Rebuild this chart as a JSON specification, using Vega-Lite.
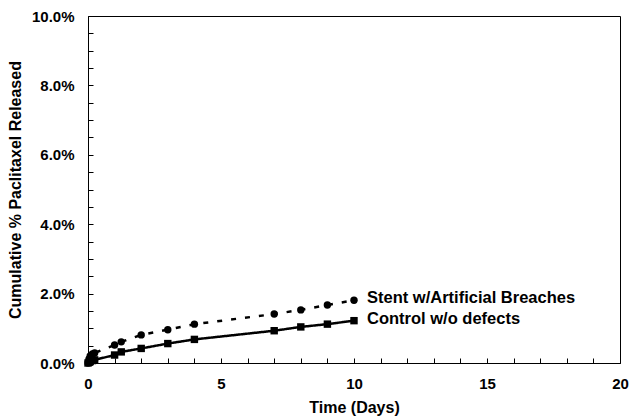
{
  "$schema": "https://vega.github.io/schema/vega-lite/v6.json",
  "width": 532,
  "height": 347,
  "autosize": {"type": "none"},
  "padding": {"left": 88, "top": 16, "right": 12, "bottom": 57},
  "background": "white",
  "config": {
    "view": {"stroke": "black", "strokeWidth": 1},
    "font": "Liberation Sans",
    "axis": {
      "grid": false,
      "domainColor": "black",
      "tickColor": "black",
      "labelColor": "black",
      "titleColor": "black",
      "labelFont": "Liberation Sans",
      "titleFont": "Liberation Sans",
      "labelFontWeight": "bold",
      "titleFontWeight": "bold",
      "labelFontSize": 15,
      "titleFontSize": 16,
      "tickSize": -5,
      "domainWidth": 1,
      "tickWidth": 1
    }
  },
  "data": {
    "values": [
      {"series": "Control w/o defects", "t": 0, "v": 0},
      {"series": "Control w/o defects", "t": 0.042, "v": 0.02},
      {"series": "Control w/o defects", "t": 0.083, "v": 0.04},
      {"series": "Control w/o defects", "t": 0.167, "v": 0.07},
      {"series": "Control w/o defects", "t": 0.25, "v": 0.09},
      {"series": "Control w/o defects", "t": 1, "v": 0.23},
      {"series": "Control w/o defects", "t": 1.25, "v": 0.32},
      {"series": "Control w/o defects", "t": 2, "v": 0.42},
      {"series": "Control w/o defects", "t": 3, "v": 0.56},
      {"series": "Control w/o defects", "t": 4, "v": 0.68},
      {"series": "Control w/o defects", "t": 7, "v": 0.93},
      {"series": "Control w/o defects", "t": 8, "v": 1.04},
      {"series": "Control w/o defects", "t": 9, "v": 1.12},
      {"series": "Control w/o defects", "t": 10, "v": 1.22},
      {"series": "Stent w/Artificial Breaches", "t": 0, "v": 0},
      {"series": "Stent w/Artificial Breaches", "t": 0.042, "v": 0.12},
      {"series": "Stent w/Artificial Breaches", "t": 0.083, "v": 0.2},
      {"series": "Stent w/Artificial Breaches", "t": 0.167, "v": 0.26},
      {"series": "Stent w/Artificial Breaches", "t": 0.25, "v": 0.29},
      {"series": "Stent w/Artificial Breaches", "t": 1, "v": 0.52},
      {"series": "Stent w/Artificial Breaches", "t": 1.25, "v": 0.61},
      {"series": "Stent w/Artificial Breaches", "t": 2, "v": 0.81},
      {"series": "Stent w/Artificial Breaches", "t": 3, "v": 0.96},
      {"series": "Stent w/Artificial Breaches", "t": 4, "v": 1.12},
      {"series": "Stent w/Artificial Breaches", "t": 7, "v": 1.41},
      {"series": "Stent w/Artificial Breaches", "t": 8, "v": 1.53},
      {"series": "Stent w/Artificial Breaches", "t": 9, "v": 1.67},
      {"series": "Stent w/Artificial Breaches", "t": 10, "v": 1.81}
    ]
  },
  "encoding": {
    "x": {
      "field": "t", "type": "quantitative",
      "scale": {"domain": [0, 20], "nice": false, "zero": true},
      "axis": {
        "title": "Time (Days)",
        "values": [0,1,2,3,4,5,6,7,8,9,10,11,12,13,14,15,16,17,18,19,20],
        "labelExpr": "datum.value % 5 === 0 ? datum.label : ''",
        "labelPadding": 18,
        "titlePadding": 8,
        "labelFlush": false
      }
    },
    "y": {
      "field": "v", "type": "quantitative",
      "scale": {"domain": [0, 10], "nice": false},
      "axis": {
        "title": "Cumulative % Paclitaxel Released",
        "values": [0,0.5,1,1.5,2,2.5,3,3.5,4,4.5,5,5.5,6,6.5,7,7.5,8,8.5,9,9.5,10],
        "labelExpr": "datum.value % 2 === 0 ? format(datum.value, '.1f') + '%' : ''",
        "labelPadding": 19,
        "titlePadding": 8
      }
    }
  },
  "layer": [
    {
      "mark": {"type": "line", "color": "black", "strokeWidth": 2.5},
      "encoding": {
        "detail": {"field": "series"},
        "strokeDash": {
          "field": "series", "type": "nominal",
          "scale": {"domain": ["Control w/o defects", "Stent w/Artificial Breaches"], "range": [[1, 0], [5, 9]]},
          "legend": null
        }
      }
    },
    {
      "mark": {"type": "point", "filled": true, "color": "black", "opacity": 1, "size": 55},
      "encoding": {
        "shape": {
          "field": "series", "type": "nominal",
          "scale": {"domain": ["Control w/o defects", "Stent w/Artificial Breaches"], "range": ["square", "circle"]},
          "legend": null
        }
      }
    },
    {
      "transform": [{"filter": "datum.t === 10"}],
      "mark": {"type": "text", "align": "left", "baseline": "middle", "dx": 13, "dy": -2, "fontSize": 16.5, "fontWeight": "bold", "font": "Liberation Sans", "color": "black"},
      "encoding": {"text": {"field": "series"}}
    }
  ]
}
